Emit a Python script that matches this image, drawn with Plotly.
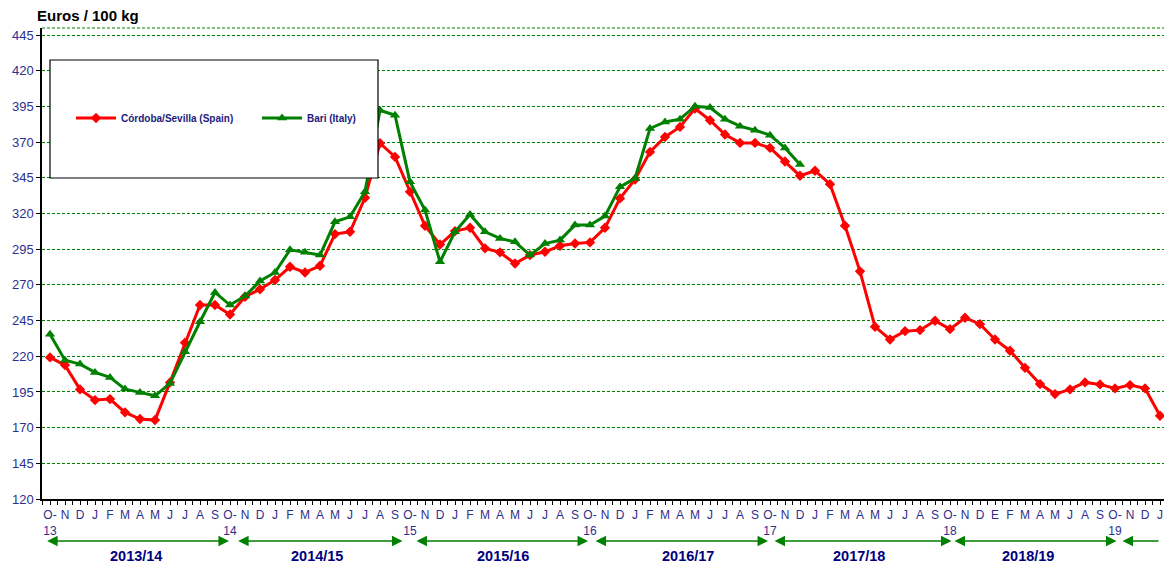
import plotly.graph_objects as go

# ---- data ----
season_years = ["13", "14", "15", "16", "17", "18", "19"]
months_full = ["N", "D", "J", "F", "M", "A", "M", "J", "J", "A", "S"]
months_1819 = ["N", "D", "E", "F", "M", "A", "M", "J", "A", "S"]
months_1920 = ["N", "D", "J"]

tick_labels = []
for yy in season_years[:5]:
    tick_labels += ["O-<br>" + yy] + months_full
tick_labels += ["O-<br>" + season_years[5]] + months_1819
tick_labels += ["O-<br>" + season_years[6]] + months_1920

spain = [219.2, 213.8, 196.8, 189.3, 190.0, 180.7, 176.0, 175.3, 201.7, 229.5,
         255.9, 255.9, 249.3, 261.7, 267.0, 273.4, 282.7, 278.7, 283.4, 305.6,
         307.2, 331.0, 369.3, 359.7, 335.2, 311.4, 298.3, 307.7, 310.0, 295.6,
         292.8, 285.0, 290.9, 293.2, 297.4, 299.0, 299.8, 310.0, 330.6, 343.9,
         363.2, 373.7, 380.7, 393.6, 385.4, 375.4, 369.5, 369.5, 366.0, 356.5,
         346.5, 350.0, 340.6, 311.5, 279.5, 240.7, 231.8, 237.6, 238.3, 244.9,
         239.0, 247.0, 242.5, 231.8, 223.9, 211.9, 200.5, 193.5, 196.8, 201.7,
         200.3, 197.5, 199.8, 197.5, 178.3]
italy = [235.5, 217.3, 214.5, 208.7, 205.2, 197.0, 194.7, 192.3, 201.0, 223.2,
         244.2, 264.7, 255.9, 262.2, 272.7, 278.7, 294.6, 292.8, 290.9, 314.2,
         317.7, 335.2, 392.4, 388.9, 342.2, 322.4, 286.2, 307.2, 319.4, 307.2,
         302.6, 300.2, 290.9, 299.0, 301.4, 311.9, 311.9, 318.2, 338.7, 344.6,
         379.6, 384.2, 386.1, 395.2, 394.3, 386.1, 381.2, 378.4, 374.9, 366.0,
         354.4]

seasons = ["2013/14", "2014/15", "2015/16", "2016/17", "2017/18", "2018/19"]
season_label_x = [5.7, 17.8, 30.2, 42.5, 53.9, 65.2]
season_arrow_start = [-0.29, 12.44, 24.33, 36.27, 48.2, 60.2]
season_arrow_end = [11.93, 23.5, 35.87, 47.87, 60.1, 71.1]

y_ticks = list(range(120, 446, 25))

x_idx = list(range(len(tick_labels)))

NAVY = "#2e2e8f"
GREEN = "#008000"
FONT = "Arial, Liberation Sans, sans-serif"

fig = go.Figure()
fig.add_trace(go.Scatter(
    x=x_idx[:len(spain)], y=spain, mode="lines+markers",
    name="Córdoba/Sevilla (Spain)",
    line=dict(color="#ff0000", width=3),
    marker=dict(symbol="diamond", size=8, color="#ff0000"),
))
fig.add_trace(go.Scatter(
    x=x_idx[:len(italy)], y=italy, mode="lines+markers",
    name="Bari (Italy)",
    line=dict(color=GREEN, width=3),
    marker=dict(symbol="triangle-up", size=9, color=GREEN),
))

OFF = 8  # page body margin
W, H = 1172 - OFF, 565 - OFF
L, T = 42 - OFF, 28 - OFF
R = W - (1167 - OFF)
B = H - (499 - OFF)
plot_w = W - L - R
plot_h = H - T - B
n = len(tick_labels)


def py(pix):
    return ((499 - OFF) - (pix - OFF)) / plot_h


def px(pix):
    return ((pix - OFF) - L) / plot_w


fig.update_layout(
    width=W, height=H,
    margin=dict(l=L, r=R, t=T, b=B, autoexpand=False),
    paper_bgcolor="white", plot_bgcolor="white",
    font=dict(family=FONT, color=NAVY),
    showlegend=True,
    legend=dict(
        orientation="h", x=px(71), y=py(118), xanchor="left", yanchor="middle",
        bgcolor="rgba(0,0,0,0)", borderwidth=0,
        font=dict(family=FONT, size=10, color="#1c1c80", weight="bold"),
        itemwidth=40, entrywidth=131, entrywidthmode="pixels",
    ),
    xaxis=dict(
        range=[-0.5333, n - 0.5333], tickmode="array", tickvals=x_idx,
        ticktext=tick_labels, tickangle=0,
        tickfont=dict(family=FONT, size=12, color=NAVY),
        showgrid=False, zeroline=False,
        showline=True, linecolor="black", linewidth=1.5,
        ticks="outside", ticklen=4, tickcolor="black",
        minor=dict(tickmode="linear", tick0=-0.5, dtick=1, ticks="outside",
                   ticklen=4, tickcolor="black", showgrid=False),
    ),
    yaxis=dict(
        range=[120, 450], tickmode="array", tickvals=y_ticks,
        tickfont=dict(family=FONT, size=13, color=NAVY),
        showgrid=True, gridcolor=GREEN, gridwidth=1, griddash="3px,2px",
        zeroline=False, showline=True, linecolor="black", linewidth=1.5,
        ticks="outside", ticklen=4, tickcolor="black",
    ),
)

shapes = [
    # top & right dashed border
    dict(type="line", xref="paper", yref="paper", x0=0, x1=1, y0=1, y1=1,
         line=dict(color=GREEN, width=1, dash="3px,2px")),
    dict(type="line", xref="paper", yref="paper", x0=1, x1=1, y0=0, y1=1,
         line=dict(color=GREEN, width=1, dash="3px,2px")),
    # legend box
    dict(type="rect", xref="paper", yref="paper", layer="above",
         x0=px(50), x1=px(378), y0=py(178), y1=py(60),
         fillcolor="white", line=dict(color="black", width=1.2)),
]
fig.update_layout(shapes=shapes)

ann = [dict(text="<b>Euros / 100 kg</b>", xref="paper", yref="paper",
            x=px(35), y=py(15), xanchor="left", yanchor="middle",
            showarrow=False, font=dict(family=FONT, size=15, color="black"))]

arrow_y = py(541)
for s, e in zip(season_arrow_start, season_arrow_end):
    ann.append(dict(text="", x=e, y=arrow_y, xref="x", yref="paper",
                    ax=s, ay=0, axref="x", ayref="pixel",
                    showarrow=True, arrowside="end+start", arrowhead=2,
                    arrowsize=1.4, arrowwidth=1.5, arrowcolor=GREEN,
                    standoff=0, startstandoff=0))
# last, incomplete season
ann.append(dict(text="", x=71.5, y=arrow_y, xref="x", yref="paper",
                ax=74.0, ay=0, axref="x", ayref="pixel",
                showarrow=True, arrowside="end", arrowhead=2,
                arrowsize=1.4, arrowwidth=1.5, arrowcolor=GREEN, standoff=0))
for lab, lx in zip(seasons, season_label_x):
    ann.append(dict(text="<b>" + lab + "</b>", x=lx, y=py(556), xref="x",
                    yref="paper", showarrow=False, xanchor="center",
                    yanchor="middle",
                    font=dict(family=FONT, size=14.5, color="#000080")))
fig.update_layout(annotations=ann)

fig.write_html("out.html")
